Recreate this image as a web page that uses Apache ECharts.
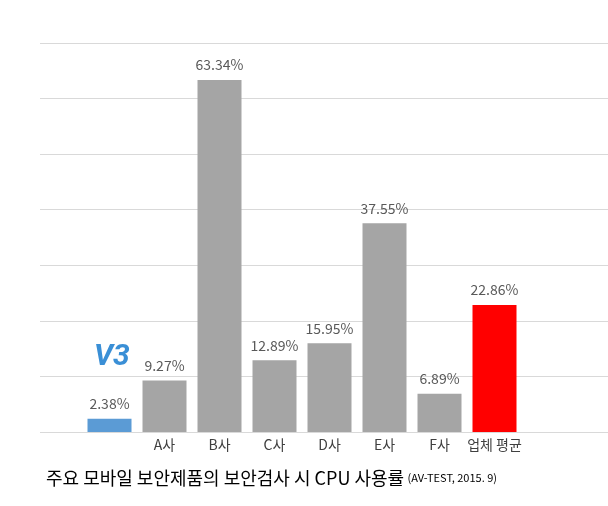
<!DOCTYPE html>
<html>
<head>
<meta charset="utf-8">
<script src="https://cdn.jsdelivr.net/npm/echarts@6/dist/echarts.min.js"></script>
<style>html,body{margin:0;padding:0;background:#fff}#main{width:608px;height:506px}</style>
</head>
<body>
<div id="main"></div>
<script>
// chart data
const categories = ["", "A사", "B사", "C사", "D사", "E사", "F사", "업체 평균"];
const values = [2.38, 9.27, 63.34, 12.89, 15.95, 37.55, 6.89, 22.86];
const barColors = ["#5b9bd5", "#a5a5a5", "#a5a5a5", "#a5a5a5", "#a5a5a5", "#a5a5a5", "#a5a5a5", "#ff0000"];

var myChart = echarts.init(document.getElementById("main"));

let bars = [];
for (let i = 0; i < values.length; i++) {
  bars.push({ value: values[i], itemStyle: { color: barColors[i] } });
}

var option = {
  animation: false,
  textStyle: { fontFamily: "Noto Sans CJK KR" },
  grid: [
    { left: 40, right: 0, top: 43, height: 389 },
    { left: 82, width: 440, top: 43, height: 389 },
  ],
  xAxis: [
    { gridIndex: 0, type: "value", show: false },
    {
      gridIndex: 1,
      type: "category",
      data: categories,
      axisTick: { show: false },
      axisLine: { show: false },
      axisLabel: { color: "#404040", fontSize: 14, margin: 6, interval: 0 },
    },
  ],
  yAxis: [
    {
      gridIndex: 0, type: "value", min: 0, max: 70, interval: 10,
      axisLabel: { show: false },
      axisLine: { show: false },
      axisTick: { show: false },
      splitLine: { lineStyle: { color: "#d9d9d9" } },
    },
    { gridIndex: 1, type: "value", min: 0, max: 70, show: false },
  ],
  series: [
    {
      type: "bar",
      xAxisIndex: 1,
      yAxisIndex: 1,
      data: bars,
      barWidth: 44,
      label: {
        show: true,
        position: "top",
        distance: 8,
        color: "#595959",
        fontSize: 14,
        formatter: (p) => p.value.toFixed(2) + "%",
      },
    },
  ],
  graphic: [
    {
      type: "text", left: 94, top: 342,
      style: { text: "V3", fill: "#3a8fd6", font: "italic bold 30px Roboto" },
    },
    {
      type: "text", left: 46, top: 469,
      style: {
        text: "{a|주요 모바일 보안제품의 보안검사 시 CPU 사용률} {b|(AV-TEST, 2015. 9)}",
        rich: {
          a: { fontSize: 18, fill: "#000", fontFamily: "Noto Sans CJK KR" },
          b: { fontSize: 11, fill: "#000", fontFamily: "Noto Sans CJK KR" },
        },
      },
    },
  ],
};

myChart.setOption(option);
</script>
</body>
</html>
